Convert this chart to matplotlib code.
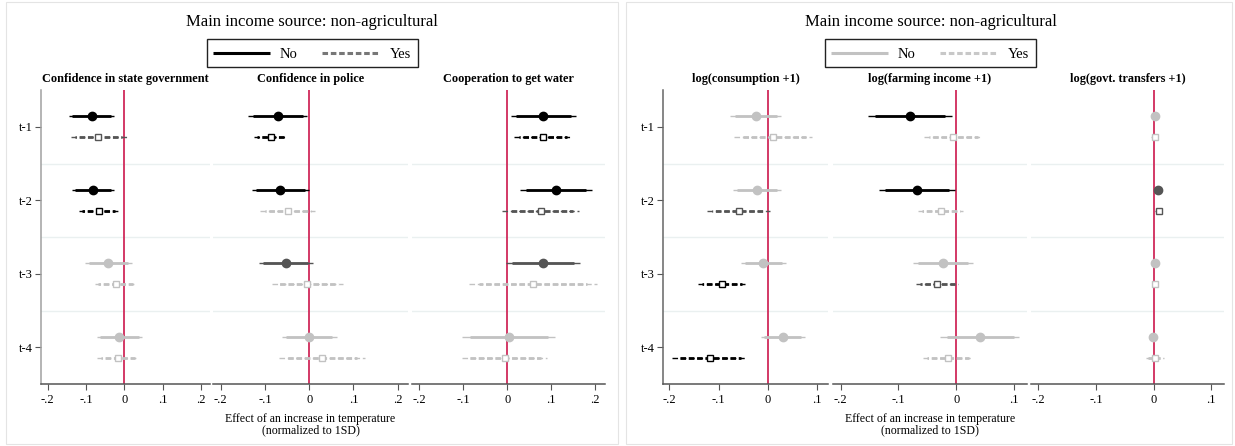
import matplotlib
matplotlib.use("Agg")
import matplotlib.pyplot as plt
from matplotlib.patches import Rectangle

plt.rcParams['font.family'] = ['Liberation Serif', 'DejaVu Serif']
plt.rcParams['lines.scale_dashes'] = False

lags = ["t-1", "t-2", "t-3", "t-4"]

# columns: coef, lo95, hi95, lo90, hi90 ; rows: t-1 .. t-4
# significance code per lag: k = p<.05, d = p<.10, l = not significant
state_gov_no = [[-0.085, -0.144, -0.026, -0.135, -0.035],
                [-0.081, -0.137, -0.026, -0.128, -0.034],
                [-0.042, -0.102, 0.019, -0.093, 0.009],
                [-0.013, -0.072, 0.047, -0.063, 0.037]]
state_gov_no_sig = "kkll"
state_gov_yes = [[-0.068, -0.140, 0.006, -0.129, -0.007],
                 [-0.067, -0.118, -0.016, -0.110, -0.024],
                 [-0.023, -0.076, 0.030, -0.068, 0.022],
                 [-0.016, -0.072, 0.036, -0.061, 0.029]]
state_gov_yes_sig = "dkll"

police_no = [[-0.070, -0.137, -0.004, -0.126, -0.014],
             [-0.065, -0.130, 0.000, -0.120, -0.010],
             [-0.053, -0.113, 0.008, -0.104, -0.002],
             [0.000, -0.062, 0.063, -0.052, 0.052]]
police_no_sig = "kkdl"
police_yes = [[-0.086, -0.125, -0.052, -0.117, -0.055],
              [-0.048, -0.110, 0.013, -0.100, 0.004],
              [-0.004, -0.085, 0.076, -0.072, 0.064],
              [0.028, -0.068, 0.125, -0.053, 0.109]]
police_yes_sig = "klll"

water_no = [[0.082, 0.008, 0.157, 0.019, 0.145],
            [0.111, 0.030, 0.193, 0.043, 0.179],
            [0.082, -0.003, 0.166, 0.011, 0.153],
            [0.004, -0.102, 0.109, -0.085, 0.093]]
water_no_sig = "kkdl"
water_yes = [[0.081, 0.016, 0.147, 0.026, 0.136],
             [0.076, -0.011, 0.163, 0.003, 0.149],
             [0.058, -0.088, 0.205, -0.065, 0.181],
             [-0.005, -0.104, 0.091, -0.087, 0.077]]
water_yes_sig = "kdll"

consumption_no = [[-0.024, -0.076, 0.026, -0.067, 0.019],
                  [-0.022, -0.071, 0.026, -0.063, 0.019],
                  [-0.009, -0.054, 0.036, -0.047, 0.029],
                  [0.030, -0.014, 0.076, -0.008, 0.068]]
consumption_no_sig = "llll"
consumption_yes = [[0.011, -0.068, 0.089, -0.055, 0.077],
                   [-0.059, -0.123, 0.005, -0.113, -0.005],
                   [-0.093, -0.141, -0.046, -0.133, -0.053],
                   [-0.118, -0.195, -0.043, -0.182, -0.054]]
consumption_yes_sig = "ldkk"

farming_no = [[-0.080, -0.153, -0.008, -0.141, -0.019],
              [-0.068, -0.133, -0.002, -0.123, -0.013],
              [-0.023, -0.074, 0.028, -0.066, 0.020],
              [0.041, -0.028, 0.109, -0.017, 0.099]]
farming_no_sig = "kkll"
farming_yes = [[-0.005, -0.055, 0.045, -0.047, 0.037],
               [-0.027, -0.067, 0.012, -0.060, 0.006],
               [-0.033, -0.069, 0.002, -0.063, -0.003],
               [-0.014, -0.057, 0.029, -0.050, 0.022]]
farming_yes_sig = "lldl"

transfers_no = [[0.003, -0.003, 0.009, -0.002, 0.008],
                [0.008, 0.002, 0.014, 0.003, 0.013],
                [0.003, -0.003, 0.009, -0.002, 0.008],
                [-0.001, -0.007, 0.005, -0.006, 0.004]]
transfers_no_sig = "ldll"
transfers_yes = [[0.002, -0.004, 0.008, -0.003, 0.007],
                 [0.009, 0.003, 0.015, 0.004, 0.014],
                 [0.003, -0.003, 0.009, -0.002, 0.008],
                 [0.002, -0.013, 0.018, -0.010, 0.015]]
transfers_yes_sig = "ldll"

left_titles = ["Confidence in state government", "Confidence in police",
               "Cooperation to get water"]
right_titles = ["log(consumption +1)", "log(farming income +1)",
                "log(govt. transfers +1)"]

left_ticks = [-0.2, -0.1, 0, 0.1, 0.2]
left_ticklabels = ["-.2", "-.1", "0", ".1", ".2"]
right_ticks = [-0.2, -0.1, 0, 0.1]
right_ticklabels = ["-.2", "-.1", "0", ".1"]

sig_colors = {"k": "#000000", "d": "#555555", "l": "#c2c2c2"}
DASH = (4.0, 2.0)

W, H = 1235, 446
fig = plt.figure(figsize=(W / 100, H / 100), dpi=100)


def px_axes(x0, x1, y0, y1):
    return fig.add_axes([x0 / W, 1 - y1 / H, (x1 - x0) / W, (y1 - y0) / H])


def draw_group(ax, rows, sig, offset, yes):
    for i, (c, lo95, hi95, lo90, hi90) in enumerate(rows):
        y = i + 1 + offset
        col = sig_colors[sig[i]]
        if yes:
            # keep the thick and thin dashes in phase
            p0 = ax.transData.transform((lo95, 0))[0]
            p1 = ax.transData.transform((lo90, 0))[0]
            shift = (p1 - p0) * 72 / fig.dpi
            ls_thin = (0, DASH)
            ls_thick = (shift, DASH)
        else:
            ls_thin = ls_thick = "-"
        ax.plot([lo95, hi95], [y, y], color=col, lw=1.0, ls=ls_thin,
                solid_capstyle="butt", dash_capstyle="butt", zorder=3)
        ax.plot([lo90, hi90], [y, y], color=col, lw=2.0, ls=ls_thick,
                solid_capstyle="butt", dash_capstyle="butt", zorder=3)
        if yes:
            ax.plot(c, y, marker="s", ms=5, mfc="white", mec=col, mew=1.0,
                    zorder=4)
        else:
            ax.plot(c, y, marker="o", ms=6, mfc=col, mec=col, zorder=4)


def subplot(x0, x1, title, no_rows, no_sig, yes_rows, yes_sig,
            xlim, ticks, ticklabels, first, spine_col):
    ax = px_axes(x0, x1, 90, 384)
    ax.set_xlim(*xlim)
    ax.set_ylim(4.5, 0.5)
    for s in ["top", "right"]:
        ax.spines[s].set_visible(False)
    ax.spines["bottom"].set_color("#555555")
    ax.spines["bottom"].set_linewidth(1.1)
    if first:
        ax.spines["left"].set_color(spine_col)
        ax.spines["left"].set_linewidth(1.1)
        ax.set_yticks(range(1, 5))
        ax.set_yticklabels(lags, fontsize=9)
        ax.tick_params(axis="y", length=4, width=0.8, color="#555555", pad=2)
    else:
        ax.spines["left"].set_visible(False)
        ax.set_yticks([])
    for yb in [1.5, 2.5, 3.5]:
        ax.axhline(yb, color="#eaf0f0", lw=1.0, zorder=1)
    ax.axvline(0, color="#d02a5a", lw=1.3, zorder=2)
    draw_group(ax, no_rows, no_sig, -0.145, False)
    draw_group(ax, yes_rows, yes_sig, 0.145, True)
    ax.set_xticks(ticks)
    ax.set_xticklabels(ticklabels, fontsize=9)
    ax.tick_params(axis="x", length=4, width=0.8, color="#555555", pad=3)
    ax.set_title(title, fontsize=8.8, fontweight="bold", pad=6)
    return ax


# left half
lx = (-0.217, 0.223)
subplot(41, 210, left_titles[0], state_gov_no, state_gov_no_sig,
        state_gov_yes, state_gov_yes_sig, lx, left_ticks, left_ticklabels,
        True, "#a0a0a0")
ax_mid_l = subplot(213, 408, left_titles[1], police_no, police_no_sig,
                   police_yes, police_yes_sig, lx, left_ticks,
                   left_ticklabels, False, None)
subplot(412, 605, left_titles[2], water_no, water_no_sig,
        water_yes, water_yes_sig, lx, left_ticks, left_ticklabels,
        False, None)

# right half
rx = (-0.213, 0.122)
subplot(663, 828, right_titles[0], consumption_no, consumption_no_sig,
        consumption_yes, consumption_yes_sig, rx, right_ticks,
        right_ticklabels, True, "#666666")
ax_mid_r = subplot(833, 1027, right_titles[1], farming_no, farming_no_sig,
                   farming_yes, farming_yes_sig, rx, right_ticks,
                   right_ticklabels, False, None)
subplot(1031, 1224, right_titles[2], transfers_no, transfers_no_sig,
        transfers_yes, transfers_yes_sig, rx, right_ticks,
        right_ticklabels, False, None)

for ax in (ax_mid_l, ax_mid_r):
    ax.set_xlabel("Effect of an increase in temperature\n(normalized to 1SD)",
                  fontsize=8.6, labelpad=5, linespacing=1.0)

# overlay for panel frames, headers and legends (pixel coordinates)
ov = fig.add_axes([0, 0, 1, 1], zorder=-1)
ov.set_xlim(0, W)
ov.set_ylim(H, 0)
ov.axis("off")
ov.add_patch(Rectangle((6, 2), 612, 442, fill=False, ec="#e4e4e4", lw=0.8))
ov.add_patch(Rectangle((626, 2), 606, 442, fill=False, ec="#e4e4e4", lw=0.8))

top = fig.add_axes([0, 0, 1, 1], zorder=5)
top.set_xlim(0, W)
top.set_ylim(H, 0)
top.axis("off")
top.patch.set_alpha(0)

for cx in (312, 931):
    top.text(cx, 22, "Main income source: non-agricultural", fontsize=12,
             ha="center", va="center")

legend_specs = [(207, "#000000", "#777777"), (825, "#c2c2c2", "#c8c8c8")]
for lx0, c_no, c_yes in legend_specs:
    top.add_patch(Rectangle((lx0, 39), 211, 28, fill=False, ec="#222222",
                            lw=1.0))
    top.plot([lx0 + 6, lx0 + 63], [53, 53], color=c_no, lw=2.2,
             solid_capstyle="butt")
    top.text(lx0 + 73, 54, "No", fontsize=10.5, va="center")
    top.plot([lx0 + 115, lx0 + 172], [53, 53], color=c_yes, lw=2.2,
             ls=(0, DASH), dash_capstyle="butt")
    top.text(lx0 + 183, 54, "Yes", fontsize=10.5, va="center")

fig.savefig("out.png", dpi=100)
